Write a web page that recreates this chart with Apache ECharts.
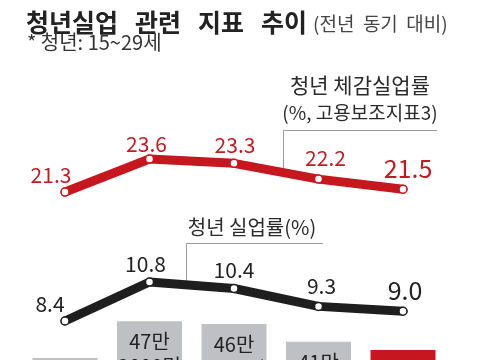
<!DOCTYPE html>
<html><head><meta charset="utf-8">
<script src="https://cdn.jsdelivr.net/npm/echarts@6/dist/echarts.min.js"></script>
<style>html,body{margin:0;padding:0;background:#fff}#c{width:480px;height:360px}</style>
</head><body><div id="c"></div>
<script>
// ---- data ----
const categories = ['1분기', '2분기', '3분기', '4분기', '5분기'];
const perceivedRate = [21.3, 23.6, 23.3, 22.2, 21.5];   // 청년 체감실업률 (%)
const youthRate = [8.4, 10.8, 10.4, 9.3, 9.0];          // 청년 실업률 (%)
const unemployed = [36.2, 47.2, 46.4, 41.1, 38.6];      // 청년 실업자 (만 명)
const unemployedLabels = ['36만\n2000명', '47만\n2000명', '46만\n4000명', '41만\n1000명', '38만\n6000명'];

// ---- styles ----
const RED = '#c6161e', RED_TXT = '#c21a22', DARK = '#1e1e1e', GRAY = '#bfc0c3';
const FONT = '"Noto Sans CJK KR", "Noto Sans", sans-serif';
const redOffsets = [[-14, -17], [-3, -15], [1, -18], [7, -21], [5, -21]];
const blackOffsets = [[-15, -17], [-4, -18], [0, -18], [3, -20], [2, -21]];

const chart = echarts.init(document.getElementById('c'), null, {renderer: 'canvas'});
const L = 22.75, R = 34.75;

function lineData(vals, offs) {
  return vals.map((v, i) => ({
    value: v,
    label: {offset: offs[i], fontSize: i === vals.length - 1 ? 25 : 21}
  }));
}

chart.setOption({
  animation: false,
  backgroundColor: '#fff',
  title: [
    {
      text: '청년실업   관련   지표   추이', left: 26, top: 10, padding: 0,
      textStyle: {fontFamily: FONT, fontSize: 25, fontWeight: 'bold', color: '#222'}
    },
    {
      text: '(전년  동기  대비)', left: 313, top: 14, padding: 0,
      textStyle: {fontFamily: FONT, fontSize: 19, fontWeight: 'normal', color: '#444'}
    },
    {
      text: '* 청년: 15~29세', left: 27, top: 32, padding: 0,
      textStyle: {fontFamily: FONT, fontSize: 20, fontWeight: 'normal', color: '#333'}
    }
  ],
  grid: [
    {left: L, right: R, top: 138.9, height: 71.8},
    {left: L, right: R, top: 278.75, height: 48.75},
    {left: L, right: R, top: 278.7, bottom: 0}
  ],
  xAxis: [0, 1, 2].map(g => ({type: 'category', data: categories, gridIndex: g, boundaryGap: true, show: false})),
  yAxis: [
    {gridIndex: 0, min: 20, max: 25, show: false},
    {gridIndex: 1, min: 8, max: 11, show: false},
    {gridIndex: 2, min: 35.6, max: 60, show: false}
  ],
  series: [
    {
      type: 'bar', xAxisIndex: 2, yAxisIndex: 2, barWidth: 65, z: 1,
      data: unemployed.map((v, i) => ({
        value: v,
        itemStyle: {color: i === unemployed.length - 1 ? RED : GRAY},
        label: {color: i === unemployed.length - 1 ? '#fff' : '#222'}
      })),
      label: {
        show: true, position: 'insideTop', distance: 8,
        fontFamily: FONT, fontSize: 20, lineHeight: 25,
        formatter: p => unemployedLabels[p.dataIndex]
      }
    },
    {
      type: 'line', xAxisIndex: 0, yAxisIndex: 0, z: 3,
      data: lineData(perceivedRate, redOffsets),
      lineStyle: {color: RED, width: 9, cap: 'round', join: 'round'},
      symbol: 'circle', symbolSize: 8,
      itemStyle: {color: '#fff', borderColor: RED, borderWidth: 1.5},
      label: {show: true, position: 'inside', color: RED_TXT, fontFamily: FONT, fontSize: 21,
        formatter: p => p.value.toFixed(1)}
    },
    {
      type: 'line', xAxisIndex: 1, yAxisIndex: 1, z: 3,
      data: lineData(youthRate, blackOffsets),
      lineStyle: {color: DARK, width: 9, cap: 'round', join: 'round'},
      symbol: 'circle', symbolSize: 8,
      itemStyle: {color: '#fff', borderColor: DARK, borderWidth: 1.5},
      label: {show: true, position: 'inside', color: '#222', fontFamily: FONT, fontSize: 21,
        formatter: p => p.value.toFixed(1)}
    }
  ],
  graphic: [
    {type: 'text', style: {x: 360, y: 85, textAlign: 'center', textVerticalAlign: 'middle', text: '청년 체감실업률',
      fontFamily: FONT, fontSize: 21, fill: '#2a2a2a'}},
    {type: 'text', style: {x: 360, y: 113, textAlign: 'center', textVerticalAlign: 'middle', text: '(%, 고용보조지표3)',
      fontFamily: FONT, fontSize: 19, fill: '#2a2a2a'}},
    {type: 'polyline', shape: {points: [[283.5, 170], [283.5, 130.5], [437, 130.5]]},
      style: {stroke: '#9a9a9a', lineWidth: 1, fill: null}, z: 0},
    {type: 'text', style: {x: 252, y: 227, textAlign: 'center', textVerticalAlign: 'middle', text: '청년 실업률(%)',
      fontFamily: FONT, fontSize: 20, fill: '#2a2a2a'}},
    {type: 'polyline', shape: {points: [[186.5, 281], [186.5, 243.5], [323, 243.5]]},
      style: {stroke: '#9a9a9a', lineWidth: 1, fill: null}, z: 0}
  ]
});
</script></body></html>
